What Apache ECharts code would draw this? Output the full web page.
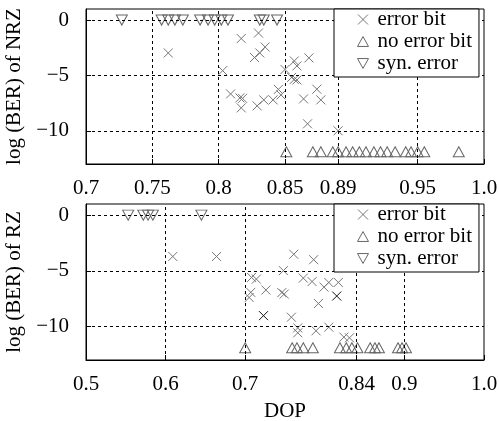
<!DOCTYPE html>
<html><head><meta charset="utf-8">
<script src="https://cdn.jsdelivr.net/npm/echarts@6/dist/echarts.min.js"></script>
<style>html,body{margin:0;padding:0;background:#fff}#c{width:499px;height:421px}</style>
</head><body><div id="c"></div>
<script>
// ---- tick values / labels ----
const nrzTicks = [0.7, 0.75, 0.8, 0.85, 0.89, 0.95, 1.0];
const nrzTickLabels = ['0.7', '0.75', '0.8', '0.85', '0.89', '0.95', '1.0'];
const rzTicks = [0.5, 0.6, 0.7, 0.84, 0.9, 1.0];
const rzTickLabels = ['0.5', '0.6', '0.7', '0.84', '0.9', '1.0'];
const yTicks = [0, -5, -10];
const yTickLabels = ['0', '\u22125', '\u221210'];
const seriesNames = ['error bit', 'no error bit', 'syn. error'];

// ---- NRZ (top) ----
const nrzErrorBit = [
  [0.762,-2.97],[0.817,-1.67],[0.830,-1.17],[0.835,-2.43],[0.831,-2.97],[0.827,-3.38],
  [0.803,-4.57],[0.809,-6.67],[0.816,-7.03],[0.818,-7.07],[0.817,-7.93],[0.829,-7.75],
  [0.834,-7.21],[0.841,-7.21],[0.845,-6.26],[0.847,-6.76],[0.850,-4.46],[0.857,-3.69],
  [0.859,-4.14],[0.855,-5.18],[0.857,-5.36],[0.859,-5.41],[0.868,-3.42],[0.864,-7.12],
  [0.874,-6.24],[0.877,-7.21],[0.867,-9.37],[0.890,-10.0]
];
const nrzNoErrorBitX = [0.851,0.871,0.877,0.886,0.890,0.896,0.901,0.906,0.911,0.917,0.922,0.927,0.933,0.941,0.945,0.950,0.955,0.981];
const nrzNoErrorBitY = -11.9;
const nrzSynErrorX = [0.727,0.757,0.762,0.767,0.773,0.786,0.792,0.797,0.802,0.807,0.831,0.834,0.844];
const nrzSynErrorY = 0;

// ---- RZ (bottom) ----
const rzErrorBit = [
  [0.609,-3.71],[0.664,-3.71],[0.708,-5.59],[0.714,-5.74],[0.707,-6.93],[0.705,-7.39],
  [0.726,-6.72],[0.761,-3.51],[0.786,-4.00],[0.748,-4.98],[0.746,-6.95],[0.749,-7.08],
  [0.773,-5.65],[0.784,-5.96],[0.799,-6.46],[0.805,-6.04],[0.817,-6.04],[0.792,-7.93],
  [0.758,-9.16],[0.766,-10.12],[0.766,-10.56],[0.789,-10.38],[0.805,-10.05],
  [0.824,-10.95],[0.831,-11.01]
];
const rzErrorBitDark = [[0.723,-9.02],[0.815,-7.26]];
const rzNoErrorBitX = [0.700,0.759,0.765,0.773,0.785,0.819,0.827,0.834,0.841,0.857,0.863,0.868,0.892,0.897,0.902];
const rzNoErrorBitY = -11.9;
const rzSynErrorX = [0.553,0.572,0.578,0.584,0.645];
const rzSynErrorY = 0;

// ---- styles ----
const FONT = 'Liberation Serif';
const FS = 21;
const X_SYM = 'path://M0,0L10,10M10,0L0,10';
const UP_SYM = 'path://M5,0L10,9L0,9Z';
const DOWN_SYM = 'path://M0,0L10,0L5,9Z';
const GREY = '#777';
const TRI = '#666';

function labelFor(ticks, labels) {
  return v => { const i = ticks.findIndex(t => Math.abs(t - v) < 1e-9); return i >= 0 ? labels[i] : ''; };
}
function xAxisCfg(idx, min, max, ticks, labels, name) {
  return {
    type: 'value', gridIndex: idx, min: min, max: max,
    axisLine: { show: true, onZero: false, lineStyle: { color: '#000', width: 1 } },
    axisTick: { show: true, inside: true, length: 5, customValues: ticks, lineStyle: { color: '#000' } },
    axisLabel: { customValues: ticks, formatter: labelFor(ticks, labels), color: '#000', fontFamily: FONT, fontSize: FS, margin: 14 },
    splitLine: { show: false },
    name: name || '', nameLocation: 'middle', nameGap: 41,
    nameTextStyle: { color: '#000', fontFamily: FONT, fontSize: FS }
  };
}
function yAxisCfg(idx, name) {
  return {
    type: 'value', gridIndex: idx, min: -13, max: 1,
    axisLine: { show: true, onZero: false, lineStyle: { color: '#000', width: 1 } },
    axisTick: { show: true, inside: true, length: 5, customValues: yTicks, lineStyle: { color: '#000' } },
    axisLabel: { customValues: yTicks, formatter: labelFor(yTicks, yTickLabels), color: '#000', fontFamily: FONT, fontSize: FS, margin: 17 },
    splitLine: { show: false },
    name: name, nameLocation: 'middle', nameGap: 49, nameRotate: 90,
    nameTextStyle: { color: '#000', fontFamily: FONT, fontSize: FS }
  };
}
function gridLines(xTicks) {
  const d = [];
  xTicks.slice(1, -1).forEach(v => d.push({ xAxis: v }));
  yTicks.forEach(v => d.push({ yAxis: v }));
  return {
    silent: true, symbol: 'none', label: { show: false }, animation: false,
    lineStyle: { type: [3, 3], color: '#000', width: 1 }, data: d
  };
}
function scatter(name, idx, data, sym, size, color, extra) {
  return Object.assign({
    type: 'scatter', name: name, xAxisIndex: idx, yAxisIndex: idx, data: data,
    symbol: sym, symbolSize: size, animation: false, z: 3,
    itemStyle: { color: 'transparent', borderColor: color, borderWidth: 1, opacity: 1 }
  }, extra || {});
}
function legendCfg(top) {
  const ic = [X_SYM, UP_SYM, DOWN_SYM];
  return {
    orient: 'vertical', left: 334, top: top,
    backgroundColor: '#fff', borderColor: '#000', borderWidth: 1,
    padding: [0, 7, 3, 23], itemGap: 1, itemWidth: 11, itemHeight: 10,
    selectedMode: false, z: 10,
    textStyle: { color: '#000', fontFamily: FONT, fontSize: FS, lineHeight: 21, padding: [0, 0, 0, 4] },
    data: seriesNames.map((n, i) => ({
      name: n, icon: ic[i],
      itemStyle: { color: 'transparent', borderColor: i === 0 ? GREY : TRI, borderWidth: 1 }
    }))
  };
}

const option = {
  backgroundColor: '#fff',
  animation: false,
  grid: [
    { left: 86, right: 15, top: 9, height: 155, outerBoundsMode: 'none', containLabel: false, show: true, borderColor: '#000', borderWidth: 1, backgroundColor: 'transparent' },
    { left: 86, right: 15, top: 204, height: 156, outerBoundsMode: 'none', containLabel: false, show: true, borderColor: '#000', borderWidth: 1, backgroundColor: 'transparent' }
  ],
  xAxis: [
    xAxisCfg(0, 0.7, 1.0, nrzTicks, nrzTickLabels),
    xAxisCfg(1, 0.5, 1.0, rzTicks, rzTickLabels, 'DOP')
  ],
  yAxis: [
    yAxisCfg(0, 'log (BER) of NRZ'),
    yAxisCfg(1, 'log (BER) of RZ')
  ],
  legend: [legendCfg(9), legendCfg(204)],
  series: [
    scatter('error bit', 0, nrzErrorBit, X_SYM, 9, GREY, { markLine: gridLines(nrzTicks) }),
    scatter('no error bit', 0, nrzNoErrorBitX.map(x => [x, nrzNoErrorBitY]), UP_SYM, [11, 10], TRI),
    scatter('syn. error', 0, nrzSynErrorX.map(x => [x, nrzSynErrorY]), DOWN_SYM, [11, 10], TRI),
    scatter('error bit', 1, rzErrorBit, X_SYM, 9, GREY, { markLine: gridLines(rzTicks) }),
    scatter('error bit', 1, rzErrorBitDark, X_SYM, 9, '#111'),
    scatter('no error bit', 1, rzNoErrorBitX.map(x => [x, rzNoErrorBitY]), UP_SYM, [11, 10], TRI),
    scatter('syn. error', 1, rzSynErrorX.map(x => [x, rzSynErrorY]), DOWN_SYM, [11, 10], TRI)
  ]
};
echarts.init(document.getElementById('c'), null, { renderer: 'canvas' }).setOption(option);
</script>
</body></html>
